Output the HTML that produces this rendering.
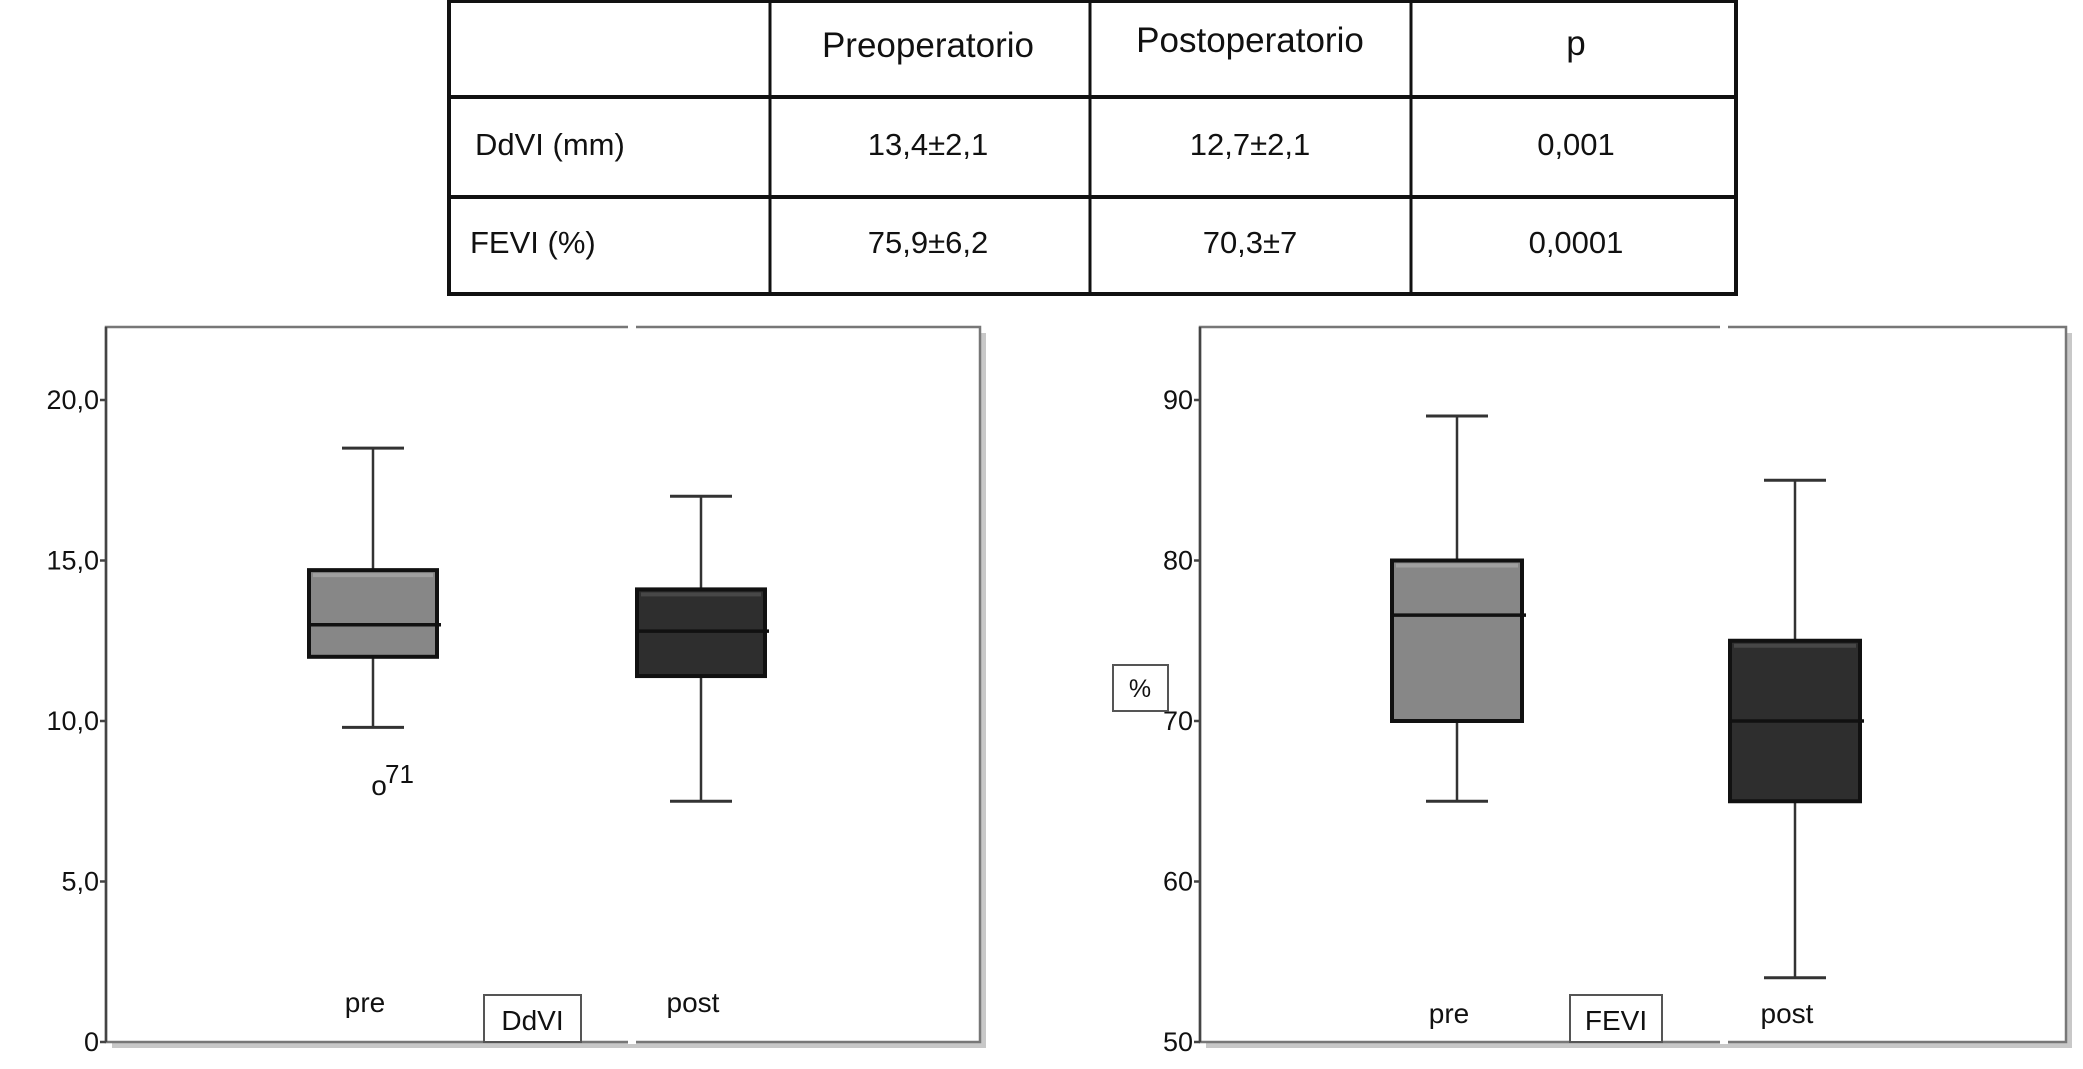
<!DOCTYPE html>
<html><head><meta charset="utf-8">
<style>
html,body{margin:0;padding:0;background:#fff;}
svg{display:block;font-family:"Liberation Sans",sans-serif;}
</style></head>
<body>
<svg id="root" width="2083" height="1069" viewBox="0 0 2083 1069" xmlns="http://www.w3.org/2000/svg">
<g fill="#111">
  <rect x="449" y="1" width="1287" height="293" fill="none" stroke="#111" stroke-width="4"/>
  <line x1="449" y1="97" x2="1736" y2="97" stroke="#111" stroke-width="4"/>
  <line x1="449" y1="197" x2="1736" y2="197" stroke="#111" stroke-width="4"/>
  <line x1="770" y1="0" x2="770" y2="294" stroke="#111" stroke-width="3"/>
  <line x1="1090" y1="0" x2="1090" y2="294" stroke="#111" stroke-width="3"/>
  <line x1="1411" y1="0" x2="1411" y2="294" stroke="#111" stroke-width="3"/>
  <text x="928" y="57" font-size="35" text-anchor="middle">Preoperatorio</text>
  <text x="1250" y="52" font-size="35" text-anchor="middle">Postoperatorio</text>
  <text x="1576" y="55" font-size="35" text-anchor="middle">p</text>
  <text x="475" y="155" font-size="31">DdVI (mm)</text>
  <text x="928" y="155" font-size="31" text-anchor="middle">13,4±2,1</text>
  <text x="1250" y="155" font-size="31" text-anchor="middle">12,7±2,1</text>
  <text x="1576" y="155" font-size="31" text-anchor="middle">0,001</text>
  <text x="470" y="253" font-size="31">FEVI (%)</text>
  <text x="928" y="253" font-size="31" text-anchor="middle">75,9±6,2</text>
  <text x="1250" y="253" font-size="31" text-anchor="middle">70,3±7</text>
  <text x="1576" y="253" font-size="31" text-anchor="middle">0,0001</text>
</g>
<g id="chartL"></g>
<g id="chartR"></g>
</svg>
<script>
// DdVI chart data
const ddviCategories = ["pre", "post"];
const ddviWhiskerHigh = [18.5, 17.0];
const ddviQ3 = [14.7, 14.1];
const ddviMedian = [13.0, 12.8];
const ddviQ1 = [12.0, 11.4];
const ddviWhiskerLow = [9.8, 7.5];
const ddviOutlierValues = [8.0];
const ddviOutlierLabels = ["71"];
const ddviTicks = [0, 5, 10, 15, 20];
const ddviTickLabels = ["0", "5,0", "10,0", "15,0", "20,0"];
// FEVI chart data
const feviCategories = ["pre", "post"];
const feviWhiskerHigh = [89, 85];
const feviQ3 = [80, 75];
const feviMedian = [76.6, 70];
const feviQ1 = [70, 65];
const feviWhiskerLow = [65, 54];
const feviTicks = [50, 60, 70, 80, 90];
const feviTickLabels = ["50", "60", "70", "80", "90"];

const NS = "http://www.w3.org/2000/svg";
function mk(parent, tag, attrs){ const e=document.createElementNS(NS,tag); for(const k in attrs) e.setAttribute(k,attrs[k]); parent.appendChild(e); return e; }

function drawChart(g, cfg){
  const y = v => cfg.y0 - (v - cfg.vmin) * cfg.pxPerUnit;
  const x = i => cfg.centers[i];
  const sh = mk(g,"rect",{x:cfg.left+6,y:cfg.top+6,width:cfg.right-cfg.left,height:cfg.y0-cfg.top,fill:"#c8c8c8"});
   
  const fr = mk(g,"rect",{x:cfg.left,y:cfg.top,width:cfg.right-cfg.left,height:cfg.y0-cfg.top,fill:"#fff",stroke:"#777","stroke-width":2.5});
   
  const gap = mk(g,"line",{x1:cfg.divider,y1:cfg.top-2,x2:cfg.divider,y2:cfg.top+2,stroke:"#fff","stroke-width":8});
   
  const gap2 = mk(g,"line",{x1:cfg.divider,y1:cfg.y0-2,x2:cfg.divider,y2:cfg.y0+2,stroke:"#fff","stroke-width":8});
   
  const ax = mk(g,"line",{x1:cfg.left,y1:cfg.top,x2:cfg.left,y2:cfg.y0,stroke:"#444","stroke-width":2.5});
   
  cfg.ticks.forEach((t,i)=>{
    const tl = mk(g,"line",{x1:cfg.left-6,y1:y(t),x2:cfg.left,y2:y(t),stroke:"#444","stroke-width":2.5});
     
    const tx = mk(g,"text",{x:cfg.left-7,y:y(t)+9,"font-size":27,"text-anchor":"end",fill:"#111"});
    tx.textContent = cfg.tickLabels[i];
     
  });
  cfg.cats.forEach((c,i)=>{
    const cx = x(i), hw = cfg.boxHalf;
    const w1 = mk(g,"line",{x1:cx,y1:y(cfg.hi[i]),x2:cx,y2:y(cfg.lo[i]),stroke:"#333","stroke-width":2.5});
     
    [cfg.hi[i], cfg.lo[i]].forEach(v=>{
      const cap = mk(g,"line",{x1:cx-31,y1:y(v),x2:cx+31,y2:y(v),stroke:"#333","stroke-width":3});
       
    });
    const b = mk(g,"rect",{x:cx-hw,y:y(cfg.q3[i]),width:2*hw,height:y(cfg.q1[i])-y(cfg.q3[i]),fill:cfg.fills[i],stroke:"#111","stroke-width":4});
     
    const hl = mk(g,"rect",{x:cx-hw+4,y:y(cfg.q3[i])+3,width:2*hw-8,height:4,fill:cfg.hl[i]});
     
    const m = mk(g,"line",{x1:cx-hw-2,y1:y(cfg.med[i]),x2:cx+hw+4,y2:y(cfg.med[i]),stroke:"#111","stroke-width":3.5});
     
    const lb = mk(g,"text",{x:cx-8,y:cfg.labelY,"font-size":28,"text-anchor":"middle",fill:"#111"});
    lb.textContent = c;
     
  });
  const tb = mk(g,"rect",{x:cfg.titleX,y:cfg.y0-47,width:cfg.titleW,height:47,fill:"#fff",stroke:"#555","stroke-width":2});
   
  const tt = mk(g,"text",{x:cfg.titleX+cfg.titleW/2,y:cfg.y0-12,"font-size":28,"text-anchor":"middle",fill:"#111"});
  tt.textContent = cfg.title;
   
  return y;
}

const gL = document.getElementById('chartL');
const yL = drawChart(gL,{left:106,right:980,top:327,y0:1042,vmin:0,pxPerUnit:32.1,divider:632,
  centers:[373,701],boxHalf:64,cats:ddviCategories,hi:ddviWhiskerHigh,q3:ddviQ3,med:ddviMedian,q1:ddviQ1,lo:ddviWhiskerLow,
  fills:["#878787","#2e2e2e"],hl:["#a0a0a0","#474747"],ticks:ddviTicks,tickLabels:ddviTickLabels,labelY:1012,
  title:"DdVI",titleX:484,titleW:97});
ddviOutlierValues.forEach((v,i)=>{
  const o = mk(gL,"text",{x:379,y:yL(v)+10,"font-size":28,"text-anchor":"middle",fill:"#111"});
  o.textContent = "o";
   
  const ol = mk(gL,"text",{x:385,y:yL(v)-2,"font-size":26,fill:"#111"});
  ol.textContent = ddviOutlierLabels[i];
   
});

const gR = document.getElementById('chartR');
drawChart(gR,{left:1200,right:2066,top:327,y0:1042,vmin:50,pxPerUnit:16.05,divider:1724,
  centers:[1457,1795],boxHalf:65,cats:feviCategories,hi:feviWhiskerHigh,q3:feviQ3,med:feviMedian,q1:feviQ1,lo:feviWhiskerLow,
  fills:["#878787","#2e2e2e"],hl:["#a0a0a0","#474747"],ticks:feviTicks,tickLabels:feviTickLabels,labelY:1023,
  title:"FEVI",titleX:1570,titleW:92});
const pb = mk(gR,"rect",{x:1113,y:665,width:55,height:46,fill:"#fff",stroke:"#555","stroke-width":2});
 
const pt = mk(gR,"text",{x:1140,y:697,"font-size":25,"text-anchor":"middle",fill:"#111"});
pt.textContent = "%";
 
</script>
</body></html>
